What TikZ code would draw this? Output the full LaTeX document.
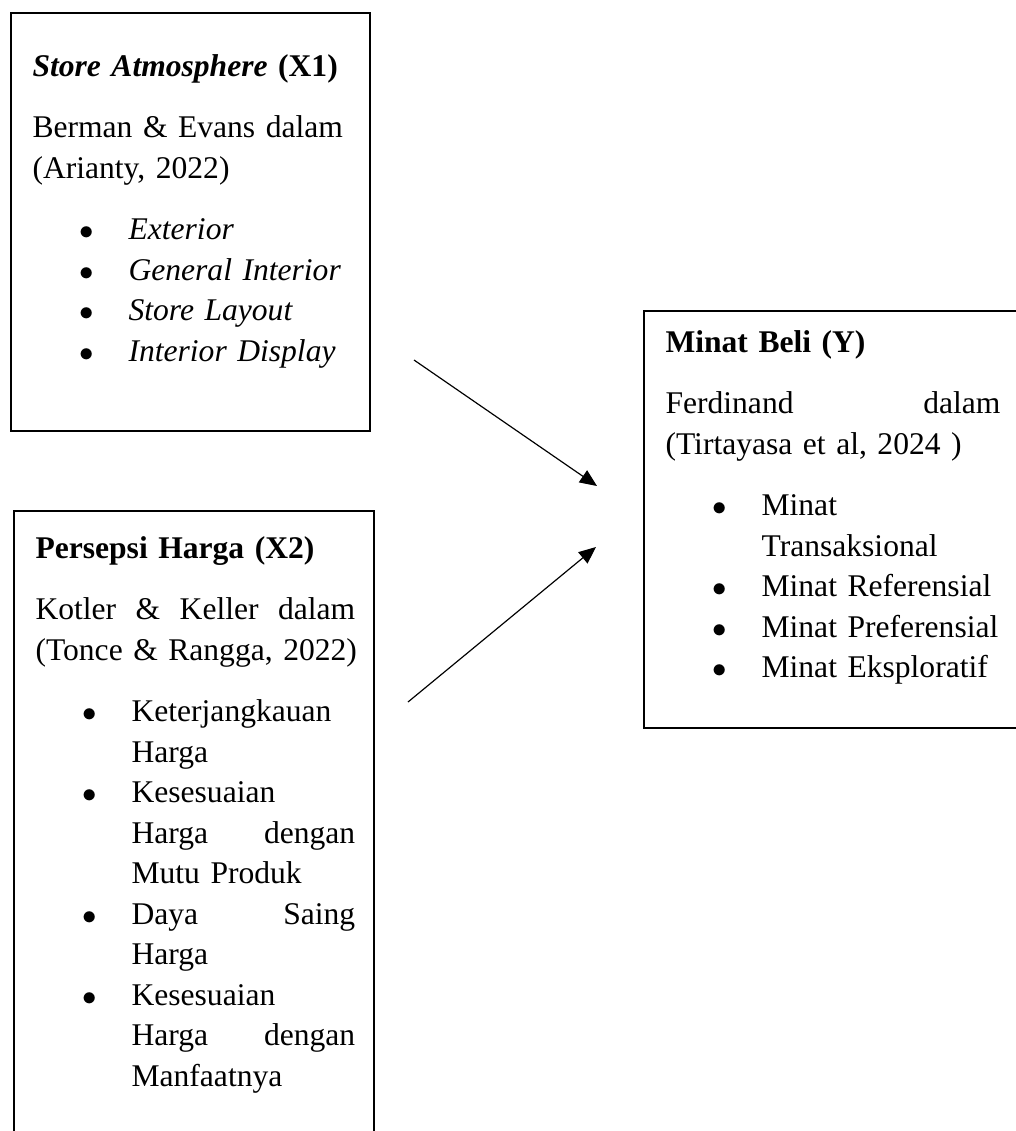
\documentclass[tikz,border=0pt]{standalone}
\usepackage{fontspec}
\setmainfont{Liberation Serif}
\usetikzlibrary{arrows.meta}

\newcommand{\butir}[1]{\par\hangindent=36.5pt\hangafter=1\noindent\makebox[36.5pt][l]{\hspace{20.5pt}\makebox[0pt]{\fontsize{11pt}{12pt}\selectfont$\bullet$}}#1}

\begin{document}
\begin{tikzpicture}[x=0.38pt,y=-0.38pt,
	kotak/.style={draw,line width=0.8pt,anchor=north west,inner sep=0pt},
	isi/.style={anchor=base west,inner sep=0pt,font=\fontsize{12pt}{15.4pt}\selectfont},
	panah/.style={-{Triangle[length=6.5pt,width=5.5pt]},line width=0.45pt}]
	\useasboundingbox (0,0) rectangle (1016,1131);
	\clip (0,0) rectangle (1016,1131);
	\node[kotak,minimum width=136.4pt,minimum height=158.8pt](x1) at (10,12){};
	\node[kotak,minimum width=136.8pt,minimum height=243.2pt](x2) at (13,510){};
	\node[kotak,minimum width=147pt,minimum height=158.5pt](y) at (643,310){};
	\node[isi,text width=119.7pt](x1teks) at (32,76){\textbf{\textit{Store Atmosphere}} \textbf{(X1)}\par\vspace{8pt}
		Berman \& Evans dalam\newline
		(Arianty, 2022)\par\vspace{8pt}
		\butir{\textit{Exterior}}
		\butir{\textit{General Interior}}
		\butir{\textit{Store Layout}}
		\butir{\textit{Interior Display}}\par};
	\node[isi,text width=121.5pt](x2teks) at (35,558){\textbf{Persepsi Harga (X2)}\par\vspace{8pt}
		Kotler\hfill\&\hfill Keller\hfill dalam\newline
		\mbox{(Tonce \& Rangga, 2022)}\par\vspace{8pt}
		\butir{Keterjangkauan\newline Harga}
		\butir{Kesesuaian\newline Harga\hfill dengan\newline Mutu Produk}
		\butir{Daya\hfill Saing\newline Harga}
		\butir{Kesesuaian\newline Harga\hfill dengan\newline Manfaatnya}\par};
	\node[isi,text width=127.3pt](yteks) at (665,352){\textbf{Minat Beli (Y)}\par\vspace{8pt}
		Ferdinand\hfill dalam\newline
		(Tirtayasa et al, 2024 )\par\vspace{8pt}
		\butir{Minat\newline Transaksional}
		\butir{Minat Referensial}
		\butir{Minat Preferensial}
		\butir{Minat Eksploratif}\par};
	\coordinate (x1ujung) at (414,360);
	\coordinate (y1ujung) at (597,486);
	\coordinate (x2ujung) at (408,702);
	\coordinate (y2ujung) at (596,547);
	\draw[panah](x1ujung)--(y1ujung);
	\draw[panah](x2ujung)--(y2ujung);
\end{tikzpicture}
\end{document}
